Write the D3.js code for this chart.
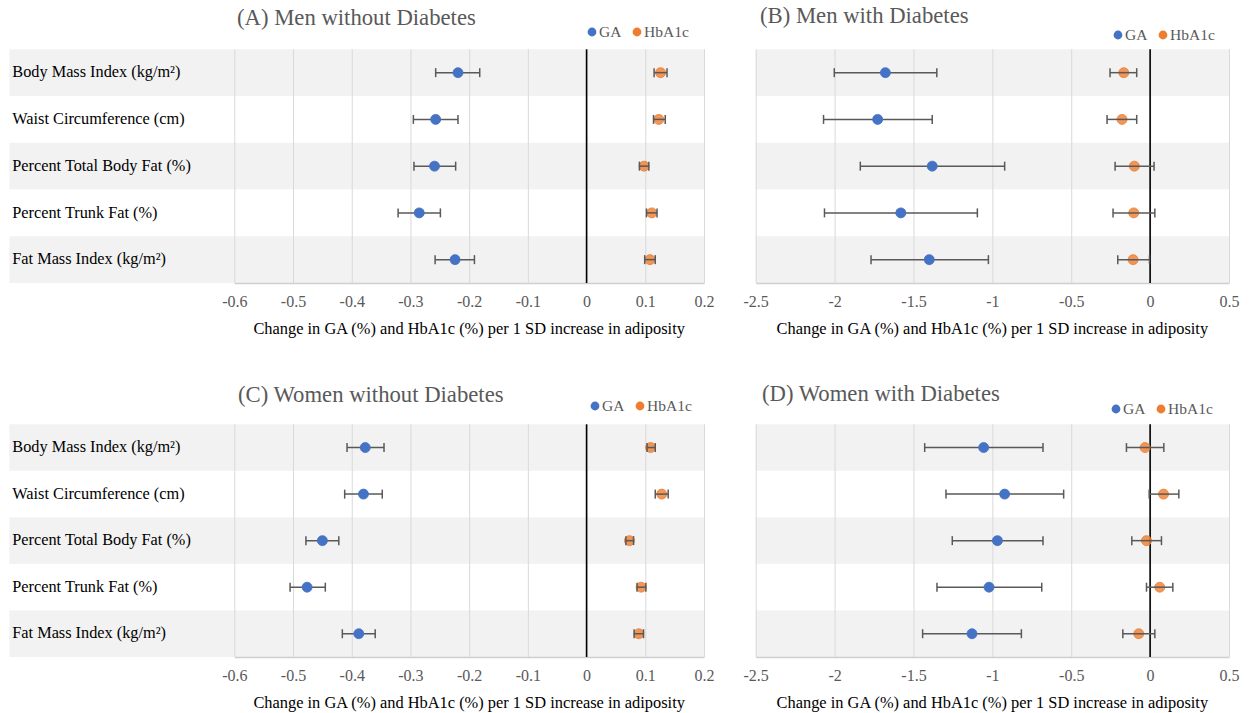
<!DOCTYPE html>
<html>
<head>
<meta charset="utf-8">
<script src="https://cdn.jsdelivr.net/npm/d3@7"></script>
<style>
  body { margin: 0; background: #fff; }
  svg text { font-family: "Liberation Serif", "Times New Roman", serif !important; }
</style>
</head>
<body>
<div id="chart"></div>
<script>
// categories (rows, top to bottom)
const categories = [
  'Body Mass Index (kg/m²)',
  'Waist Circumference (cm)',
  'Percent Total Body Fat (%)',
  'Percent Trunk Fat (%)',
  'Fat Mass Index (kg/m²)'
];
const ticksNoDiabetes = [-0.6, -0.5, -0.4, -0.3, -0.2, -0.1, 0, 0.1, 0.2];
const ticksDiabetes = [-2.5, -2, -1.5, -1, -0.5, 0, 0.5];

// (A) Men without Diabetes
const menNoDmGA = [-0.219, -0.257, -0.259, -0.285, -0.224];
const menNoDmGALow = [-0.257, -0.295, -0.294, -0.321, -0.258];
const menNoDmGAHigh = [-0.182, -0.219, -0.223, -0.249, -0.191];
const menNoDmHb = [0.126, 0.123, 0.098, 0.111, 0.108];
const menNoDmHbLow = [0.115, 0.114, 0.090, 0.102, 0.099];
const menNoDmHbHigh = [0.137, 0.134, 0.106, 0.120, 0.117];

// (B) Men with Diabetes
const menDmGA = [-1.678, -1.727, -1.381, -1.580, -1.400];
const menDmGALow = [-2.002, -2.070, -1.837, -2.064, -1.769];
const menDmGAHigh = [-1.352, -1.381, -0.922, -1.095, -1.025];
const menDmHb = [-0.167, -0.178, -0.100, -0.104, -0.108];
const menDmHbLow = [-0.254, -0.273, -0.222, -0.235, -0.205];
const menDmHbHigh = [-0.085, -0.085, 0.025, 0.030, -0.004];

// (C) Women without Diabetes
const womenNoDmGA = [-0.377, -0.380, -0.450, -0.476, -0.388];
const womenNoDmGALow = [-0.408, -0.412, -0.478, -0.505, -0.416];
const womenNoDmGAHigh = [-0.345, -0.348, -0.422, -0.445, -0.360];
const womenNoDmHb = [0.109, 0.128, 0.073, 0.093, 0.089];
const womenNoDmHbLow = [0.103, 0.117, 0.067, 0.086, 0.081];
const womenNoDmHbHigh = [0.117, 0.139, 0.080, 0.101, 0.097];

// (D) Women with Diabetes
const womenDmGA = [-1.055, -0.922, -0.968, -1.021, -1.129];
const womenDmGALow = [-1.429, -1.294, -1.254, -1.351, -1.442];
const womenDmGAHigh = [-0.679, -0.548, -0.679, -0.687, -0.816];
const womenDmHb = [-0.032, 0.085, -0.023, 0.061, -0.072];
const womenDmHbLow = [-0.150, -0.006, -0.116, -0.023, -0.173];
const womenDmHbHigh = [0.087, 0.182, 0.072, 0.144, 0.030];

const axisTitle = 'Change in GA (%) and HbA1c (%) per 1 SD increase in adiposity';
const blue = '#4472C4', orange = '#ED7D31', grey = '#595959';
const serif = '"Liberation Serif", "Times New Roman", serif';

const panels = [
  { title: '(A) Men without Diabetes', ga: [menNoDmGA, menNoDmGALow, menNoDmGAHigh], hb: [menNoDmHb, menNoDmHbLow, menNoDmHbHigh],
    ticks: ticksNoDiabetes, x0: 234.3, x1: 704, y0: 49.3, y1: 283, bandX0: 9.3, labels: true,
    titleX: 237, titleY: 20, legX: 592, legY: 32 },
  { title: '(B) Men with Diabetes', ga: [menDmGA, menDmGALow, menDmGAHigh], hb: [menDmHb, menDmHbLow, menDmHbHigh],
    ticks: ticksDiabetes, x0: 755.7, x1: 1229, y0: 49.3, y1: 283, bandX0: 755.7, labels: false,
    titleX: 760, titleY: 18, legX: 1118, legY: 35 },
  { title: '(C) Women without Diabetes', ga: [womenNoDmGA, womenNoDmGALow, womenNoDmGAHigh], hb: [womenNoDmHb, womenNoDmHbLow, womenNoDmHbHigh],
    ticks: ticksNoDiabetes, x0: 234.3, x1: 704, y0: 424.3, y1: 657, bandX0: 9.3, labels: true,
    titleX: 238, titleY: 397, legX: 595, legY: 406 },
  { title: '(D) Women with Diabetes', ga: [womenDmGA, womenDmGALow, womenDmGAHigh], hb: [womenDmHb, womenDmHbLow, womenDmHbHigh],
    ticks: ticksDiabetes, x0: 755.7, x1: 1229, y0: 424.3, y1: 657, bandX0: 755.7, labels: false,
    titleX: 762, titleY: 396, legX: 1116, legY: 409 }
];

const svg = d3.select('#chart').append('svg')
  .attr('width', 1257).attr('height', 713)
  .attr('font-family', serif);

function drawPanel(p) {
  const g = svg.append('g');
  const x = d3.scaleLinear().domain(d3.extent(p.ticks)).range([p.x0, p.x1]);
  const y = d3.scaleBand().domain(categories).range([p.y0, p.y1]);
  const h = y.bandwidth();

  // row bands
  g.selectAll('rect.band').data(categories).join('rect').classed('band', true)
    .attr('x', p.bandX0).attr('y', d => y(d))
    .attr('width', p.x1 - p.bandX0).attr('height', h)
    .attr('fill', (d, i) => i % 2 === 0 ? '#F2F2F2' : '#FFFFFF');

  // grid + tick labels
  const axis = d3.axisBottom(x).tickValues(p.ticks)
    .tickSize(-(p.y1 - p.y0)).tickSizeOuter(0).tickPadding(13)
    .tickFormat(d => String(Math.round(d * 10) / 10));
  const ax = g.append('g').attr('transform', `translate(0,${p.y1})`).call(axis)
    .attr('font-family', serif).attr('font-size', 16);
  ax.selectAll('.tick line').attr('stroke', '#D9D9D9').attr('stroke-width', 1);
  ax.select('.domain').attr('stroke', '#CFCFCF').attr('stroke-width', 1.5);
  ax.selectAll('.tick text').attr('fill', grey)
    .style('font-size', '16px').style('font-family', serif);

  // zero line
  g.append('line').attr('x1', x(0)).attr('x2', x(0)).attr('y1', p.y0).attr('y2', p.y1)
    .attr('stroke', '#000').attr('stroke-width', 1.6);

  // row labels
  if (p.labels) {
    g.selectAll('text.rowlab').data(categories).join('text').classed('rowlab', true)
      .attr('x', 12.3).attr('y', d => y(d) + h / 2 + 1)
      .attr('dominant-baseline', 'middle')
      .style('font-size', '16.3px').attr('fill', '#000')
      .text(d => d);
  }

  // series
  const series = [
    { vals: p.ga, color: blue, opacity: 1, barOnTop: false },
    { vals: p.hb, color: orange, opacity: 0.8, barOnTop: true }
  ];
  series.forEach(s => {
    const rows = categories.map((c, i) => ({ c, est: s.vals[0][i], lo: s.vals[1][i], hi: s.vals[2][i] }));
    const sg = g.append('g');
    const drawBars = () => {
      const eb = sg.append('g').attr('stroke', grey).attr('stroke-width', 1.5);
      eb.selectAll('line.ci').data(rows).join('line').classed('ci', true)
        .attr('x1', d => x(d.lo)).attr('x2', d => x(d.hi))
        .attr('y1', d => y(d.c) + h / 2).attr('y2', d => y(d.c) + h / 2);
      eb.selectAll('line.capl').data(rows).join('line').classed('capl', true)
        .attr('x1', d => x(d.lo)).attr('x2', d => x(d.lo))
        .attr('y1', d => y(d.c) + h / 2 - 4.5).attr('y2', d => y(d.c) + h / 2 + 4.5);
      eb.selectAll('line.caph').data(rows).join('line').classed('caph', true)
        .attr('x1', d => x(d.hi)).attr('x2', d => x(d.hi))
        .attr('y1', d => y(d.c) + h / 2 - 4.5).attr('y2', d => y(d.c) + h / 2 + 4.5);
    };
    if (!s.barOnTop) drawBars();
    sg.selectAll('circle').data(rows).join('circle')
      .attr('cx', d => x(d.est)).attr('cy', d => y(d.c) + h / 2).attr('r', 5)
      .attr('fill', s.color).attr('fill-opacity', s.opacity)
      .attr('stroke', s.color).attr('stroke-width', 0.8);
    if (s.barOnTop) drawBars();
  });

  // title
  g.append('text').attr('x', p.titleX).attr('y', p.titleY).attr('dominant-baseline', 'middle')
    .style('font-size', '22.7px').attr('fill', grey).text(p.title);

  // legend
  const leg = g.append('g').attr('transform', `translate(${p.legX},${p.legY})`);
  [{ name: 'GA', color: blue, dx: 0 }, { name: 'HbA1c', color: orange, dx: 45 }].forEach(l => {
    leg.append('circle').attr('cx', l.dx).attr('cy', 0).attr('r', 4.4).attr('fill', l.color);
    leg.append('text').attr('x', l.dx + 7).attr('y', 1).attr('dominant-baseline', 'middle')
      .style('font-size', '15.5px').attr('fill', grey).text(l.name);
  });

  // axis title
  g.append('text').attr('x', (p.x0 + p.x1) / 2).attr('y', p.y1 + 47)
    .attr('text-anchor', 'middle').attr('dominant-baseline', 'middle')
    .style('font-size', '16.4px').attr('fill', '#000').text(axisTitle);
}

panels.forEach(drawPanel);
</script>
</body>
</html>
